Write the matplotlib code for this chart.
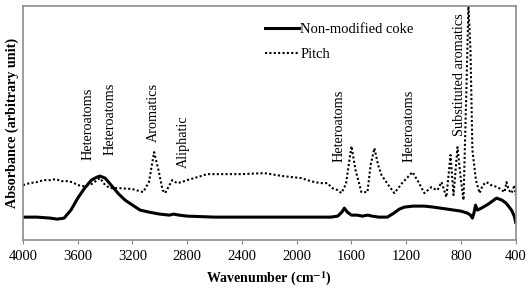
# FTIR spectra: non-modified coke vs pitch
import numpy as np
import matplotlib.pyplot as plt

plt.rcParams['font.family'] = ['Liberation Serif', 'DejaVu Serif']
plt.rcParams['mathtext.fontset'] = 'stix'

# Non-modified coke (solid)
coke_wn = [4000, 3900, 3800, 3750, 3700, 3650, 3600, 3550, 3500, 3460, 3437, 3400,
           3350, 3300, 3254, 3200, 3144, 3080, 3000, 2930, 2900, 2860, 2800, 2600,
           2400, 2200, 2000, 1800, 1750, 1700, 1670, 1652, 1630, 1600, 1560, 1520,
           1480, 1450, 1400, 1337, 1290, 1250, 1213, 1150, 1067, 1000, 900, 800,
           752, 730, 716, 705, 693, 680, 650, 600, 540, 500, 470, 430, 410, 400]
coke_abs = [23, 23, 22, 21, 22, 30, 42, 52, 60, 63, 64, 62,
            54, 46, 40, 35, 30, 28, 26, 25, 26, 25, 24, 23,
            23, 23, 23, 23, 23, 24, 28, 32, 28, 25, 25, 24,
            25, 24, 23, 23, 27, 31, 33, 34, 34, 33, 31, 29,
            27, 25, 22, 27, 35, 30, 32, 36, 42, 40, 37, 30, 24, 18]

# Pitch (dotted)
pitch_wn = [4000, 3950, 3900, 3850, 3800, 3760, 3720, 3680, 3640, 3600, 3560, 3500,
            3437, 3400, 3364, 3300, 3200, 3122, 3080, 3042, 3010, 2980, 2961, 2930,
            2910, 2874, 2840, 2800, 2750, 2700, 2654, 2500, 2400, 2237, 2100, 1966,
            1922, 1870, 1820, 1776, 1740, 1700, 1674, 1640, 1600, 1570, 1527, 1483,
            1460, 1432, 1405, 1380, 1330, 1286, 1230, 1154, 1110, 1067, 1015, 990,
            971, 942, 906, 876, 854, 825, 800, 781, 760, 745, 730, 716, 690, 664,
            640, 613, 580, 532, 500, 481, 467, 450, 430, 408, 400]
pitch_abs = [55, 57, 58, 60, 60, 61, 59, 59, 58, 55, 54, 56,
             62, 55, 52, 52, 51, 48, 58, 88, 70, 50, 47, 55,
             60, 57, 58, 60, 62, 64, 66, 66, 66, 67, 64, 62,
             60, 58, 57, 57, 52, 50, 47, 56, 94, 70, 48, 48,
             75, 92, 75, 65, 55, 47, 57, 68, 58, 47, 53, 51,
             50, 58, 43, 85, 45, 93, 60, 40, 150, 234, 190, 90, 60, 47,
             55, 58, 55, 53, 50, 48, 58, 50, 47, 55, 45]

# band labels: (text, wavenumber, bottom of text)
band_names = ['Heteroatoms', 'Heteroatoms', 'Aromatics', 'Aliphatic',
              'Heteroatoms', 'Heteroatoms', 'Substituted aromatics']
band_wn = [3525, 3364, 3049, 2830, 1688, 1176, 810]
band_y = [80, 85, 98, 72, 78, 78, 104]

fig = plt.figure(figsize=(5.28, 2.9), dpi=100)
ax = fig.add_axes([0.0436, 0.172, 0.933, 0.807])

ax.plot(coke_wn, coke_abs, color='black', lw=2.2, label='Non-modified coke')
ax.plot(pitch_wn, pitch_abs, color='black', lw=1.5, ls=(0, (1, 1.1)), label='Pitch')

for name, wn, y in zip(band_names, band_wn, band_y):
    ax.text(wn, y, name, rotation=90, ha='center', va='bottom', fontsize=10.3)

ax.set_xlim(4000, 400)
ax.set_ylim(0, 234)
ax.set_xticks(np.arange(4000, 399, -400))
ax.set_yticks([])
ax.tick_params(axis='x', labelsize=10.5, length=3, color='#888888', pad=4)
for s in ax.spines.values():
    s.set_color('#8c8c8c')
    s.set_linewidth(1.2)

ax.set_xlabel('Wavenumber (cm$^{\\mathbf{-1}}$)', fontsize=10, fontweight='bold', labelpad=5)
ax.set_ylabel('Absorbance (arbitrary unit)', fontsize=10.2, fontweight='bold', labelpad=3)

ax.legend(loc='upper left', bbox_to_anchor=(0.465, 0.985), frameon=False, fontsize=10.5,
          handlelength=2.3, handletextpad=0.1, labelspacing=0.8)

fig.savefig('out.png', dpi=100)
